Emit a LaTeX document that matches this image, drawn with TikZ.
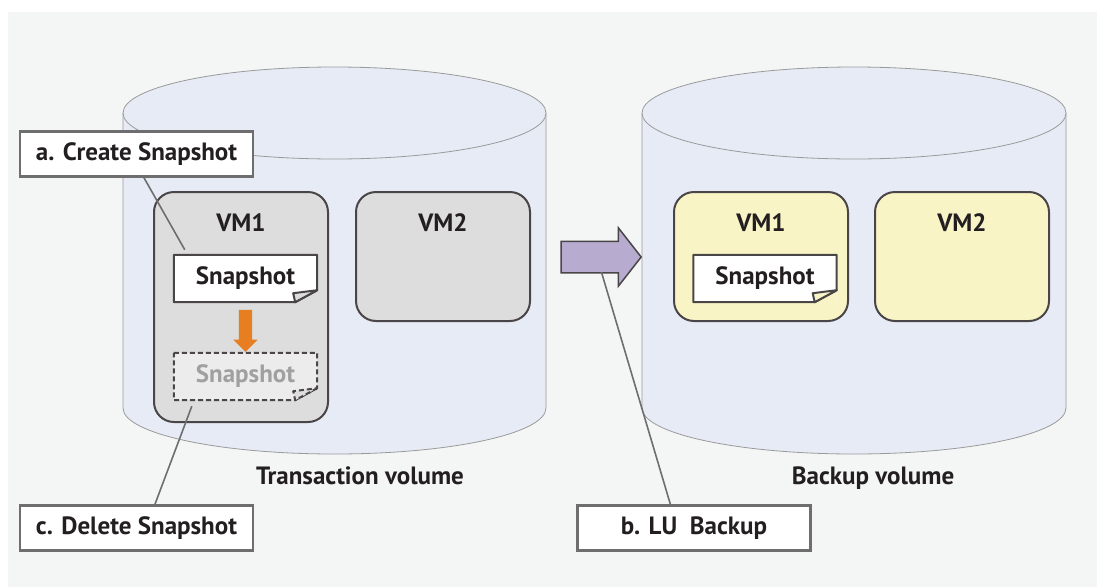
\documentclass[tikz,border=0pt]{standalone}
\usepackage{fontspec}
\setmainfont{PT Sans}
\usetikzlibrary{arrows.meta,calc,positioning,shapes.arrows,backgrounds}

\definecolor{panelgrey}{HTML}{F4F6F5}
\definecolor{volblue}{HTML}{E6EBF5}
\definecolor{voledge}{HTML}{9A9A9A}
\definecolor{vmgrey}{HTML}{DCDDDC}
\definecolor{vmyellow}{HTML}{F8F4C6}
\definecolor{inkdark}{HTML}{231F20}
\definecolor{frameink}{HTML}{4A4546}
\definecolor{calloutedge}{HTML}{6E6E6E}
\definecolor{ghostink}{HTML}{A0A0A0}
\definecolor{copyorange}{HTML}{E87E22}
\definecolor{lupurple}{HTML}{B7ABD0}

% volume drum: centre x, x radius, top y, bottom y, y radius
\newcommand{\drumvol}[5]{%
  \fill[volblue] ({#1-#2},#3) -- ({#1-#2},#4)
        arc[start angle=180,end angle=360,x radius=#2pt,y radius=#5pt] -- ({#1+#2},#3) -- cycle;
  \draw[voledge,line width=0.8pt] ({#1-#2},#3) -- ({#1-#2},#4)
        arc[start angle=180,end angle=360,x radius=#2pt,y radius=#5pt] -- ({#1+#2},#3);
  \draw[voledge,line width=0.8pt,fill=volblue] (#1,#3) ellipse[x radius=#2pt,y radius=#5pt];}

% snapshot sheet outline with folded lower right corner: node, flap colour, extra options
\newcommand{\sheetfold}[3]{%
  \fill[#2] ([yshift=12pt]#1.south east) -- (#1.south east) -- ([xshift=-22pt]#1.south east) -- cycle;
  \draw[sheetedge,#3] (#1.north west) -- (#1.north east) -- ([yshift=12pt]#1.south east)
        -- ([xshift=-22pt]#1.south east) -- (#1.south west) -- cycle;
  \draw[sheetedge,#3,fill=#2] ([yshift=12pt]#1.south east) -- ([xshift=-22pt]#1.south east)
        -- ([xshift=-24pt,yshift=9pt]#1.south east) -- cycle;}

\begin{document}
\begin{tikzpicture}[
  x=1pt, y=-1pt,
  font=\fontsize{25}{30}\selectfont\bfseries,
  vmbox/.style    ={draw=frameink,line width=2pt,rounded corners=20pt,
                    minimum width=174pt,inner sep=0pt},
  vmname/.style   ={text=inkdark},
  sheet/.style    ={fill=white,minimum width=143pt,minimum height=47pt,
                    inner sep=0pt,text=inkdark},
  sheetedge/.style={draw=frameink,line width=2pt,line join=round},
  callout/.style  ={draw=calloutedge,line width=2.2pt,fill=white,minimum width=233pt,
                    minimum height=45pt,inner sep=0pt,text=inkdark},
  leader/.style   ={draw=calloutedge,line width=1.6pt},
  caption/.style  ={text=inkdark},
  droparrow/.style={single arrow,fill=copyorange,inner sep=0pt,text height=6.5pt,
                    text depth=6.5pt,minimum height=42pt,minimum width=24pt,
                    single arrow head extend=5.5pt,single arrow tip angle=90,rotate=-90},
  xferarrow/.style={single arrow,draw=frameink,fill=lupurple,line width=1.5pt,inner sep=0pt,
                    text height=15pt,text depth=15pt,minimum height=80pt,minimum width=57pt,
                    single arrow head extend=13.5pt,single arrow tip angle=104},
]

\useasboundingbox (0,0) rectangle (1097,587);
\fill[white] (0,0) rectangle (1097,587);
\fill[panelgrey] (8,12) rectangle (1097,587);

%% --- volumes ---
\drumvol{334.5}{211.5}{113}{408}{46}
\drumvol{854}{212}{113}{408}{46}

%% --- virtual machines ---
\node[vmbox,fill=vmgrey,minimum height=230pt]   (tvm1) at (241,307)   {};
\node[vmbox,fill=vmgrey,minimum height=129pt]   (tvm2) at (443,256.5) {};
\node[vmbox,fill=vmyellow,minimum height=129pt] (bvm1) at (761,256.5) {};
\node[vmbox,fill=vmyellow,minimum height=129pt] (bvm2) at (962,256.5) {};

\node[vmname] (tvm1name) at (241,223) {VM1};
\node[vmname] (tvm2name) at (443,223) {VM2};
\node[vmname] (bvm1name) at (761,223) {VM1};
\node[vmname] (bvm2name) at (962,223) {VM2};

%% --- snapshots ---
\node[sheet] (tsnap) at (245.5,278.5) {Snapshot};
\sheetfold{tsnap}{vmgrey}{}
\node[sheet,fill=white!45!vmgrey,text=ghostink] (tgone) at (245.5,376.5) {Snapshot};
\sheetfold{tgone}{vmgrey}{dash pattern=on 5pt off 3pt}
\node[sheet] (bsnap) at (765,278.5) {Snapshot};
\sheetfold{bsnap}{vmyellow}{}

%% --- arrows ---
\node[droparrow] (drop) at ($(tsnap.south)!0.5!(tgone.north)$) {};
\node[xferarrow] (xfer) at (595,257) {};

%% --- callouts ---
\node[callout] (create)   at (136.5,154) {a. Create Snapshot};
\node[callout] (delete)   at (136.5,528) {c. Delete Snapshot};
\node[callout] (lubackup) at (694,528)   {b. LU\ \ Backup};

\draw[leader] ([xshift=125pt]create.south west) -- ([xshift=11pt,yshift=5pt]tsnap.north west);
\draw[leader] ([xshift=136pt]delete.north west) -- ([xshift=18pt,yshift=-6pt]tgone.south west);
\draw[leader] ([xshift=94pt]lubackup.north west) -- ($(xfer.tail)+(41,15)$);

%% --- volume captions ---
\node[caption] (tcap) at (360,476) {Transaction volume};
\node[caption] (bcap) at (873,478) {Backup volume};

\end{tikzpicture}
\end{document}
